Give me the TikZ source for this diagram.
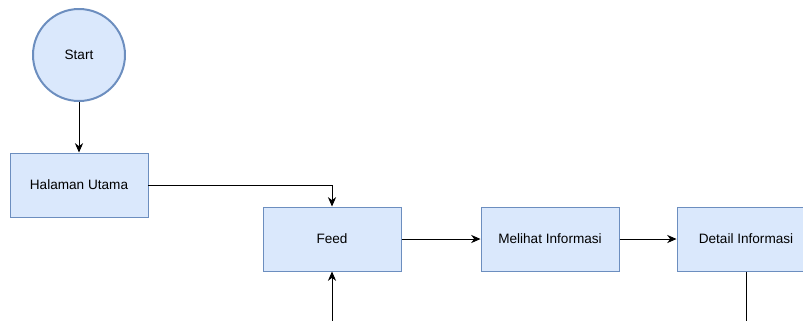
\documentclass[tikz,border=0pt]{standalone}
\usepackage{fontspec}
\setmainfont{Liberation Sans}
\usetikzlibrary{shapes,arrows.meta}

\definecolor{boxfill}{HTML}{DAE8FC}
\definecolor{boxline}{HTML}{6C8EBF}

\tikzset{
  stepbox/.style={draw=boxline, fill=boxfill, line width=0.85pt, rectangle,
    minimum width=4.14cm, minimum height=1.92cm, inner sep=0pt,
    font=\fontsize{11.6pt}{14pt}\selectfont},
  startnode/.style={draw=boxline, fill=boxfill, line width=1.7pt, circle,
    minimum size=2.76cm, inner sep=0pt, font=\fontsize{11.6pt}{14pt}\selectfont},
  flow/.style={-{Stealth[length=8pt,width=7pt]}, line width=0.85pt},
  plain/.style={line width=0.85pt}
}

\begin{document}
\begin{tikzpicture}[x=0.3cm, y=0.3cm]
\useasboundingbox (0,0) rectangle (80.3,-32.0); % page size 803x320
\draw (7.9,-5.5) node[startnode] (start) {Start};
\draw (7.9,-18.5) node[stepbox] (halaman) {Halaman Utama};
\draw (33.2,-23.9) node[stepbox] (feed) {Feed};
\draw (55.0,-23.9) node[stepbox] (melihat) {Melihat Informasi};
\draw (74.6,-23.9) node[stepbox] (detail) {Detail Informasi};
\coordinate (bawahfeed) at (33.2,-33.0);
\coordinate (bawahdetail) at (74.6,-33.0);
\draw [flow] (start) to (halaman);
\draw [flow] (halaman.east) -| (feed.north);
\draw [flow] (feed) to (melihat);
\draw [flow] (melihat) to (detail);
\draw [flow] (bawahfeed) to (feed.south);
\draw [plain] (detail.south) to (bawahdetail);
\end{tikzpicture}
\end{document}
